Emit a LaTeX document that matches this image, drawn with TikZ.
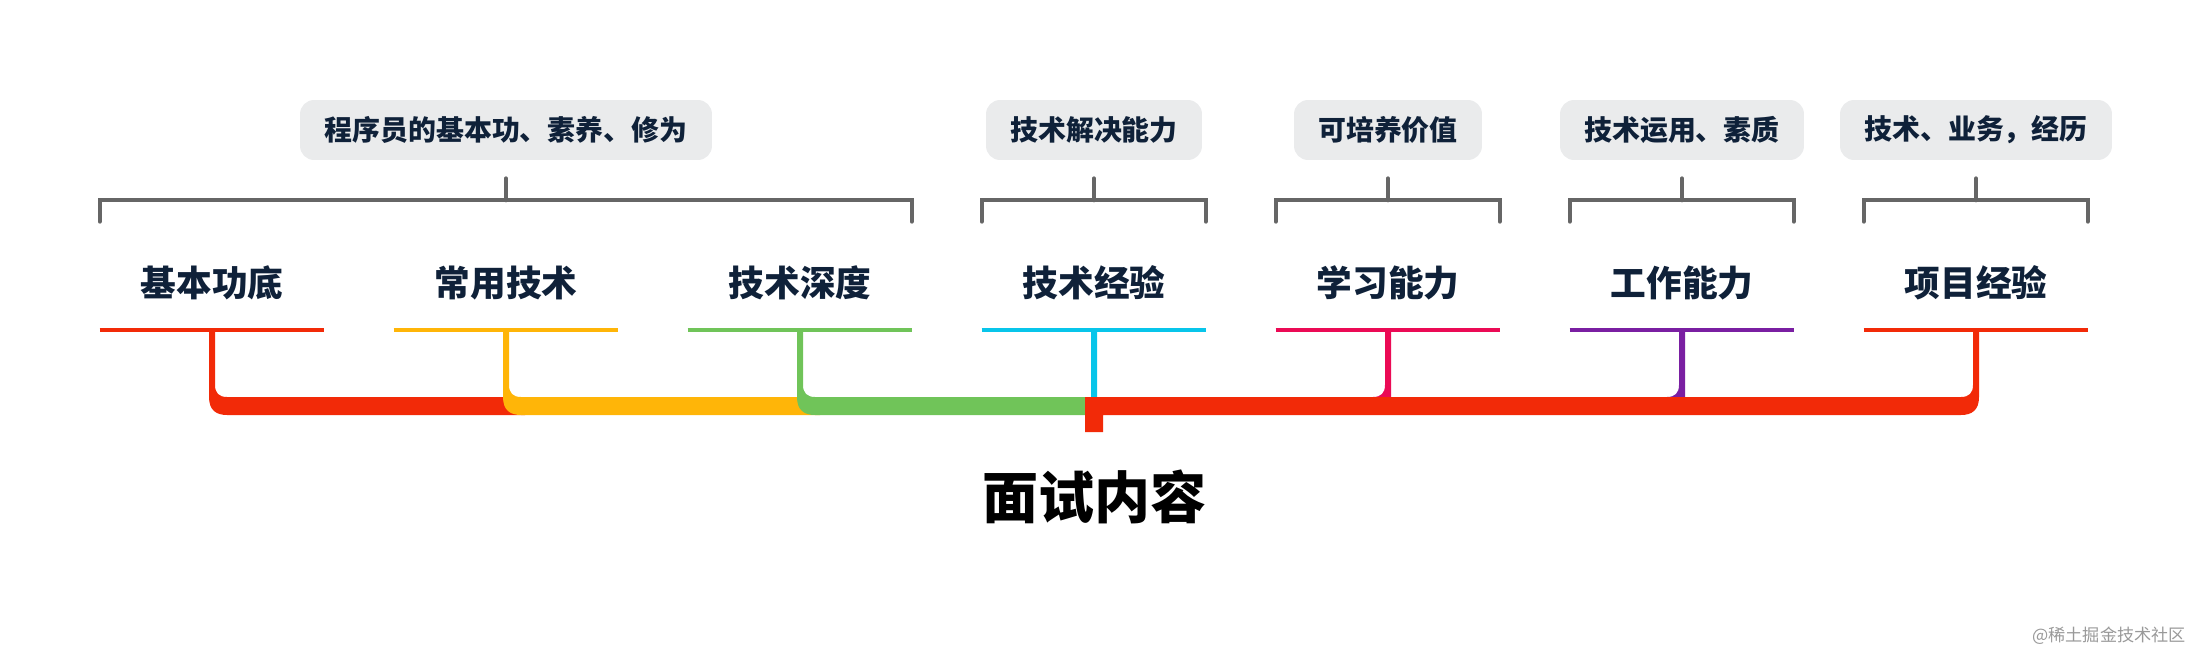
\documentclass[tikz,border=0pt]{standalone}
\usepackage{fontspec}
\setmainfont{Noto Sans CJK SC}
\usepackage{tikz}
\definecolor{fred}{HTML}{F22A08}
\definecolor{fyellow}{HTML}{FFB508}
\definecolor{fgreen}{HTML}{70C459}
\definecolor{fcyan}{HTML}{08C5EA}
\definecolor{fpink}{HTML}{EB0A55}
\definecolor{fpurple}{HTML}{7A1FA2}
\definecolor{ink}{HTML}{0F2139}
\definecolor{note}{HTML}{EAEBEC}
\begin{document}
\begin{tikzpicture}[x=0.02cm,y=-0.02cm]
\tikzset{topic/.style = {inner sep=0pt,minimum width=4.48cm,minimum height=1.88cm,text=ink,font=\fontsize{20.3}{24}\selectfont\bfseries}}
\tikzset{remark/.style = {fill=note,rounded corners=0.28cm,inner xsep=0pt,inner ysep=0pt,minimum height=1.2cm,text=ink,font=\fontsize{15.88}{20}\selectfont\bfseries}}
\tikzset{rule/.style = {line width=0.08cm}}
\tikzset{bracket/.style = {draw=black!60,line width=0.08cm,line cap=round}}
\useasboundingbox (0,0) rectangle (2212,666);
% remarks
\node[remark,minimum width=8.24cm] (na) at (506,130) {程序员的基本功、素养、修为};
\node[remark,minimum width=4.32cm] (nd) at (1094,130) {技术解决能力};
\node[remark,minimum width=3.76cm] (ne) at (1388,130) {可培养价值};
\node[remark,minimum width=4.88cm] (nf) at (1682,130) {技术运用、素质};
\node[remark,minimum width=5.44cm] (ng) at (1976,130) {技术、业务，经历};
% topics
\node[topic] (a) at (212,283) {基本功底};
\node[topic] (b) at (506,283) {常用技术};
\node[topic] (c) at (800,283) {技术深度};
\node[topic] (d) at (1094,283) {技术经验};
\node[topic] (e) at (1388,283) {学习能力};
\node[topic] (f) at (1682,283) {工作能力};
\node[topic] (g) at (1976,283) {项目经验};
\node[font=\fontsize{31.87}{38}\selectfont\bfseries] (title) at (1094,497) {面试内容};
\node[anchor=east,text=black!40,font=\fontsize{9.76}{12}\selectfont] (mark) at (2192,636) {@稀土掘金技术社区};
% brackets
\draw[bracket] (a.north west) ++(0,-14) -- ++(0,-22) -- ++(812,0) -- ++(0,22);
\draw[bracket] (na.south) ++(0,18) -- ++(0,22);
\draw[bracket] (d.north west) ++(0,-14) -- ++(0,-22) -- ++(224,0) -- ++(0,22);
\draw[bracket] (nd.south) ++(0,18) -- ++(0,22);
\draw[bracket] (e.north west) ++(0,-14) -- ++(0,-22) -- ++(224,0) -- ++(0,22);
\draw[bracket] (ne.south) ++(0,18) -- ++(0,22);
\draw[bracket] (f.north west) ++(0,-14) -- ++(0,-22) -- ++(224,0) -- ++(0,22);
\draw[bracket] (nf.south) ++(0,18) -- ++(0,22);
\draw[bracket] (g.north west) ++(0,-14) -- ++(0,-22) -- ++(224,0) -- ++(0,22);
\draw[bracket] (ng.south) ++(0,18) -- ++(0,22);
% underlines
\draw[rule,fred] (a.south west) -- (a.south east);
\draw[rule,fyellow] (b.south west) -- (b.south east);
\draw[rule,fgreen] (c.south west) -- (c.south east);
\draw[rule,fcyan] (d.south west) -- (d.south east);
\draw[rule,fpink] (e.south west) -- (e.south east);
\draw[rule,fpurple] (f.south west) -- (f.south east);
\draw[rule,fred] (g.south west) -- (g.south east);
% bus
\fill[fred] (a.south) ++(-3,0) -- (209,397) .. controls (209,410) and (216,415) .. (227,415) -- (525,415) -- (525,397)
  -- (227,397) .. controls (219,397) and (215,393) .. (215,385) -- (215,330) -- cycle;
\fill[fyellow] (b.south) ++(-3,0) -- (503,397) .. controls (503,410) and (510,415) .. (521,415) -- (820,415) -- (820,397)
  -- (521,397) .. controls (513,397) and (509,393) .. (509,385) -- (509,330) -- cycle;
\fill[fgreen] (c.south) ++(-3,0) -- (797,397) .. controls (797,410) and (804,415) .. (815,415) -- (1085,415) -- (1085,397)
  -- (815,397) .. controls (807,397) and (803,393) .. (803,385) -- (803,330) -- cycle;
\fill[fcyan] (d.south) ++(-3,0) -- (1091,398) -- (1097,398) -- (1097,330) -- cycle;
\fill[fpink] (e.south) ++(-3,0) -- (1385,385) .. controls (1385,393) and (1381,397) .. (1373,397) -- (1391,398) -- (1391,330) -- cycle;
\fill[fpurple] (f.south) ++(-3,0) -- (1679,385) .. controls (1679,393) and (1675,397) .. (1667,397) -- (1685,398) -- (1685,330) -- cycle;
\fill[fred] (g.south) ++(-3,0) -- (1973,385) .. controls (1973,393) and (1969,397) .. (1961,397) -- (1085,397) -- (1085,432) -- (1103,432) -- (1103,415)
  -- (1961,415) .. controls (1972,415) and (1979,410) .. (1979,397) -- (1979,330) -- cycle;

\end{tikzpicture}
\end{document}
